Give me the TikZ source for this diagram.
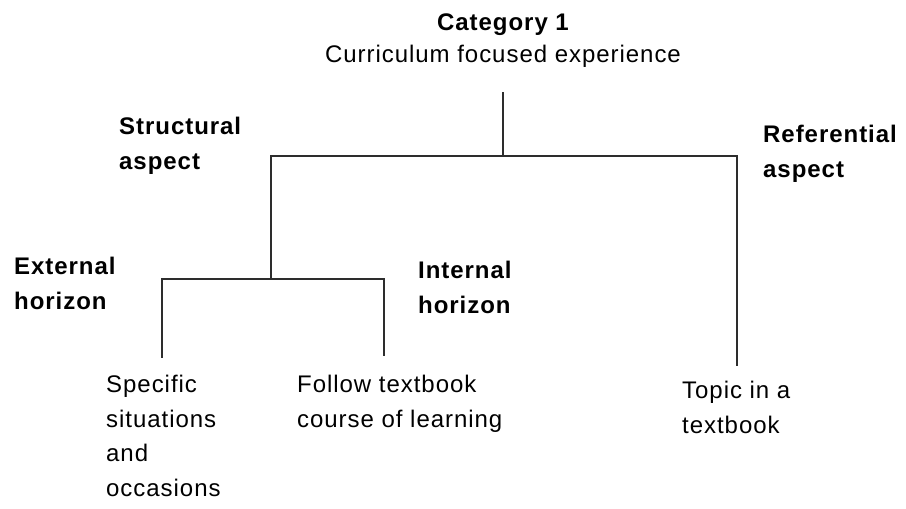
\documentclass[tikz,border=0pt]{standalone}
\usepackage{fontspec}
\setmainfont{Liberation Sans}[LetterSpace=4]
\usepackage{tikz}
\usetikzlibrary{positioning}
\definecolor{branchcolor}{RGB}{45,45,45}

\begin{document}
\begin{tikzpicture}[
    x=1pt, y=-1pt,
    head/.style={inner sep=0pt, align=left, font=\fontsize{24}{34.5}\selectfont\bfseries},
    leaf/.style={inner sep=0pt, align=left, font=\fontsize{24}{34.5}\selectfont},
    branch/.style={draw=branchcolor, line width=1.8pt, line cap=rect}
]
    \useasboundingbox (0,0) rectangle (906,509);

    % Texts
    \node[head, anchor=north] (title) at (503,14) {Category 1};
    \node[leaf, anchor=north] (subtitle) at (503,45) {Curriculum focused experience};
    \node[head, anchor=north west] (structural) at (119,117) {Structural\\aspect};
    \node[head, anchor=north west] (referential) at (763,125) {Referential\\aspect};
    \node[head, anchor=north west] (external) at (14,257) {External\\horizon};
    \node[head, anchor=north west] (internal) at (418,261) {Internal\\horizon};
    \node[leaf, anchor=north west] (specific) at (106,375) {Specific\\situations\\and\\occasions};
    \node[leaf, anchor=north west] (follow) at (297,375) {Follow textbook\\course of learning};
    \node[leaf, anchor=north west] (topic) at (682,381) {Topic in a\\textbook};

    % Junctions
    \coordinate (stem) at (503,93);
    \coordinate (stemfoot) at (503,156);
    \coordinate (structtop) at (271,156);
    \coordinate (reftop) at (737,156);
    \coordinate (refend) at (737,365);
    \coordinate (structfoot) at (271,279);
    \coordinate (exttop) at (162,279);
    \coordinate (extend) at (162,357);
    \coordinate (inttop) at (384,279);
    \coordinate (intend) at (384,355);

    % Branches
    \draw[branch] (stem) -- (stemfoot);
    \draw[branch] (refend) -- (reftop) -- (structtop) -- (structfoot);
    \draw[branch] (extend) -- (exttop) -- (inttop) -- (intend);
\end{tikzpicture}
\end{document}
